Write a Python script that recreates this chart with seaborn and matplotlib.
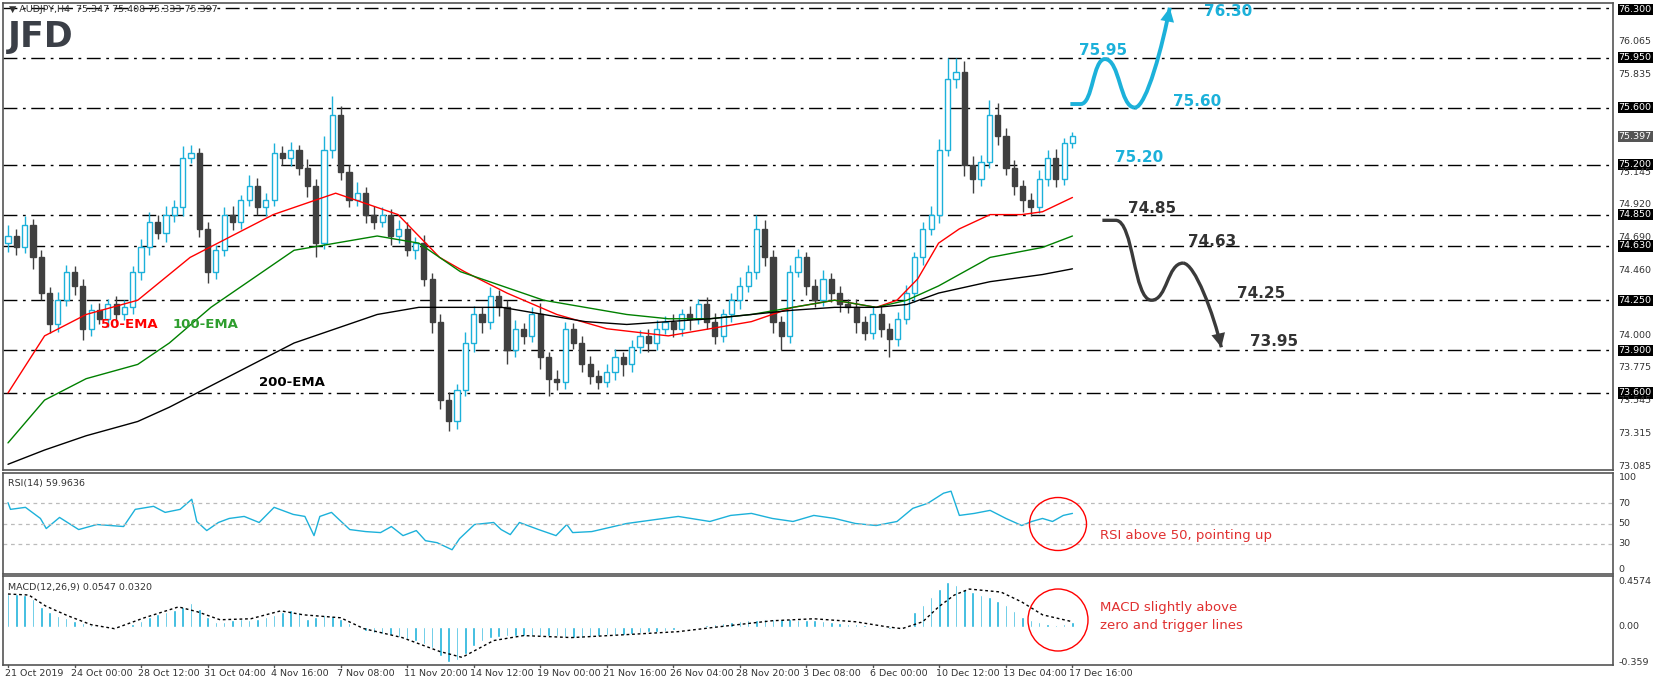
import matplotlib
matplotlib.use("Agg")
import matplotlib.pyplot as plt
from matplotlib.patches import Ellipse, PathPatch
from matplotlib.path import Path
import matplotlib.transforms as mtransforms
import seaborn as sns

# candle closes (open = previous close), wicks in hundredths
closes = [74.70, 74.62, 74.78, 74.55, 74.30, 74.08, 74.25, 74.45, 74.35, 74.05,
          74.18, 74.12, 74.22, 74.15, 74.20, 74.45, 74.62, 74.80, 74.72, 74.85,
          74.90, 75.25, 75.28, 74.75, 74.45, 74.60, 74.85, 74.80, 74.95, 75.05,
          74.90, 74.95, 75.28, 75.25, 75.30, 75.18, 75.05, 74.65, 75.30, 75.55,
          75.15, 74.95, 75.00, 74.85, 74.80, 74.85, 74.70, 74.75, 74.60, 74.65,
          74.40, 74.10, 73.55, 73.40, 73.62, 73.95, 74.15, 74.10, 74.28, 74.20,
          73.90, 74.05, 74.00, 74.15, 73.85, 73.70, 73.68, 74.05, 73.95, 73.80,
          73.72, 73.68, 73.75, 73.85, 73.80, 73.92, 74.00, 73.95, 74.05, 74.10,
          74.05, 74.15, 74.12, 74.22, 74.10, 74.00, 74.15, 74.25, 74.35, 74.45,
          74.75, 74.55, 74.10, 74.00, 74.45, 74.55, 74.35, 74.25, 74.40, 74.30,
          74.22, 74.20, 74.10, 74.02, 74.15, 74.05, 73.98, 74.12, 74.30, 74.55,
          74.75, 74.85, 75.30, 75.80, 75.85, 75.20, 75.10, 75.22, 75.55, 75.40,
          75.18, 75.05, 74.95, 74.90, 75.10, 75.25, 75.10, 75.35, 75.40]
first_open = 74.65
hi_wick = [8, 5, 6, 4, 5, 4, 6, 5, 4, 5, 4, 5, 4, 6, 5, 4, 6, 7, 5, 6,
           5, 8, 6, 4, 5, 4, 5, 6, 4, 8, 6, 5, 7, 5, 6, 4, 6, 5, 10, 13,
           6, 5, 8, 4, 6, 5, 4, 6, 5, 4, 6, 4, 5, 6, 4, 8, 6, 5, 6, 4,
           5, 6, 4, 5, 8, 4, 6, 5, 4, 5, 6, 4, 5, 6, 4, 5, 4, 5, 6, 4,
           5, 4, 6, 4, 5, 6, 4, 5, 6, 5, 10, 6, 5, 4, 5, 6, 4, 5, 6, 4,
           5, 4, 6, 4, 5, 6, 4, 5, 6, 4, 5, 6, 8, 15, 10, 8, 6, 5, 10, 8,
           6, 5, 4, 5, 6, 5, 6, 4, 3]
lo_wick = [6, 5, 4, 8, 5, 6, 5, 4, 6, 8, 5, 4, 6, 5, 4, 5, 6, 5, 4, 6,
           5, 6, 4, 6, 8, 5, 4, 6, 5, 4, 5, 6, 4, 5, 6, 5, 8, 10, 4, 5,
           6, 5, 4, 6, 5, 4, 6, 5, 4, 6, 5, 8, 6, 7, 5, 4, 6, 8, 5, 6,
           10, 5, 6, 4, 8, 12, 6, 5, 4, 5, 6, 5, 4, 6, 8, 5, 4, 6, 5, 4,
           6, 5, 8, 4, 5, 6, 4, 5, 6, 4, 5, 6, 8, 10, 5, 4, 6, 5, 4, 6,
           5, 4, 8, 5, 4, 6, 13, 5, 4, 6, 5, 4, 6, 4, 6, 8, 10, 5, 4, 6,
           5, 6, 8, 6, 4, 5, 6, 4, 3]

ema50_x = [0, 4.4, 9.4, 15.6, 21.9, 26.9, 31.9, 36.9, 39.4, 41.9, 46.9, 49.4, 51.9, 54.9,
           60, 66, 72, 79.4, 84.4, 89.4, 94.4, 99.4, 104.4, 106.9, 109.4, 111.9, 114.4,
           118.1, 121.9, 124.4, 128]
ema50_y = [73.6, 74.0, 74.15, 74.25, 74.55, 74.7, 74.85, 74.95, 75.0, 74.95, 74.85, 74.7,
           74.55, 74.45, 74.3, 74.15, 74.05, 74.0, 74.05, 74.1, 74.2, 74.25, 74.2, 74.25,
           74.4, 74.65, 74.75, 74.85, 74.85, 74.87, 74.97]
ema100_x = [0, 4.4, 9.4, 15.6, 19.4, 24.4, 29.4, 34.4, 39.4, 44.4, 49.4, 54.4, 59.4, 64.4,
            69.4, 74.4, 79.4, 84.4, 89.4, 94.4, 99.4, 104.4, 108.1, 111.9, 118.1, 124.4, 128]
ema100_y = [73.25, 73.55, 73.7, 73.8, 73.95, 74.2, 74.4, 74.6, 74.65, 74.7, 74.65, 74.45,
            74.35, 74.25, 74.2, 74.15, 74.12, 74.12, 74.15, 74.2, 74.25, 74.2, 74.25, 74.35,
            74.55, 74.62, 74.7]
ema200_x = ema100_x
ema200_y = [73.1, 73.2, 73.3, 73.4, 73.5, 73.65, 73.8, 73.95, 74.05, 74.15, 74.2, 74.2,
            74.2, 74.15, 74.1, 74.08, 74.1, 74.12, 74.15, 74.18, 74.2, 74.2, 74.22, 74.3,
            74.38, 74.43, 74.47]

rsi_x = [0, 0.3, 2.1, 3.9, 4.6, 6.2, 8.5, 10.7, 13.9, 15.3, 17.5, 18.9, 20.7, 22.1, 22.7,
         23.9, 25.3, 26.6, 28.4, 30.2, 32.0, 34.3, 35.7, 36.8, 37.5, 38.9, 39.8, 41.1, 43.0,
         44.8, 46.1, 47.5, 49.1, 50.2, 51.6, 53.4, 54.3, 56.1, 58.4, 59.3, 60.4, 61.5, 63.8,
         65.9, 67.2, 67.9, 70.2, 74.4, 80.6, 84.4, 86.9, 89.4, 91.9, 94.4, 96.9, 99.4, 101.9,
         104.4, 106.9, 108.8, 110.6, 112.5, 113.4, 114.4, 116.2, 118.1, 120, 121.9, 123.1,
         124.4, 125.6, 126.9, 128]
rsi_y = [70.6, 64, 66, 55, 45, 56, 44, 49, 47, 64, 67, 61, 64, 74, 52, 43, 51, 55, 57, 51,
         66, 59, 57, 38, 57, 61, 54, 44, 42, 41, 47, 38, 43, 33, 31, 24, 35, 49, 51, 44, 39,
         51, 44, 38, 49, 41, 42, 50, 57, 52, 58, 60, 55, 52, 58, 55, 50, 48, 52, 65, 70, 80,
         82, 58, 60, 63, 55, 48, 52, 55, 52, 58, 60]

macd_hist = [0.33, 0.33, 0.32, 0.28, 0.20, 0.15, 0.11, 0.09, 0.06, 0.04,
             0.02, 0.01, 0.00, 0.01, 0.01, 0.03, 0.06, 0.10, 0.13, 0.15,
             0.17, 0.20, 0.24, 0.18, 0.10, 0.05, 0.05, 0.07, 0.08, 0.07,
             0.08, 0.10, 0.12, 0.15, 0.17, 0.15, 0.08, 0.10, 0.12, 0.11,
             0.08, 0.04, 0.00, -0.04, -0.06, -0.07, -0.08, -0.10, -0.12, -0.14,
             -0.17, -0.22, -0.30, -0.36, -0.34, -0.28, -0.20, -0.14, -0.11, -0.10,
             -0.09, -0.09, -0.09, -0.09, -0.09, -0.09, -0.09, -0.10, -0.11, -0.11,
             -0.10, -0.09, -0.08, -0.08, -0.08, -0.07, -0.06, -0.05, -0.05, -0.04,
             -0.03, -0.01, 0.00, 0.01, 0.02, 0.03, 0.04, 0.05, 0.06, 0.07,
             0.07, 0.08, 0.08, 0.08, 0.08, 0.07, 0.07, 0.07, 0.06, 0.05,
             0.04, 0.03, 0.03, 0.02, 0.00, -0.01, -0.02, -0.01, 0.00, 0.15,
             0.22, 0.30, 0.38, 0.45, 0.42, 0.38, 0.35, 0.32, 0.30, 0.26,
             0.22, 0.16, 0.10, 0.07, 0.05, 0.03, 0.02, 0.03, 0.05]
sig_x = [0, 2.5, 4.5, 7.2, 10.0, 12.8, 16.4, 20.5, 22.8, 25.5, 29.2, 32.8, 35.5, 40.0,
         42.8, 47.4, 51.9, 54.6, 58.4, 62.0, 67.8, 74.4, 80.6, 85.6, 91.9, 96.9, 101.9,
         105.6, 107.5, 110, 111.9, 113.8, 115.6, 119.4, 121.9, 124.4, 128]
sig_y = [0.33, 0.32, 0.21, 0.11, 0.02, -0.02, 0.09, 0.20, 0.15, 0.07, 0.08, 0.16, 0.12,
         0.09, -0.02, -0.11, -0.25, -0.31, -0.14, -0.09, -0.11, -0.08, -0.05, 0.0, 0.06,
         0.08, 0.05, 0.0, -0.02, 0.05, 0.20, 0.32, 0.38, 0.35, 0.25, 0.12, 0.05]

boxed_levels = [76.30, 75.95, 75.60, 75.20, 74.85, 74.63, 74.25, 73.90, 73.60]
plain_ticks = [76.065, 75.835, 75.145, 74.920, 74.690, 74.460, 74.000, 73.775, 73.545,
               73.315, 73.085]
last_price = 75.397
date_labels = ["21 Oct 2019", "24 Oct 00:00", "28 Oct 12:00", "31 Oct 04:00", "4 Nov 16:00",
               "7 Nov 08:00", "11 Nov 20:00", "14 Nov 12:00", "19 Nov 00:00", "21 Nov 16:00",
               "26 Nov 04:00", "28 Nov 20:00", "3 Dec 08:00", "6 Dec 00:00", "10 Dec 12:00",
               "13 Dec 04:00", "17 Dec 16:00"]

CYAN = "#1CB1DA"
DARK = "#404040"
W, H = 1655, 686
FS = 6.8

sns.set_style("white")
plt.rcParams["font.family"] = ["DejaVu Sans"]

fig = plt.figure(figsize=(W / 100, H / 100), dpi=100)


def px_axes(x0, y0, x1, y1):
    return fig.add_axes([x0 / W, 1 - y1 / H, (x1 - x0) / W, (y1 - y0) / H])


ax = px_axes(3, 3, 1613, 470)
ax_rsi = px_axes(3, 473, 1613, 574)
ax_macd = px_axes(3, 576, 1613, 665)
XMAX = 193.0
for a in (ax, ax_rsi, ax_macd):
    a.set_xlim(-0.6, XMAX)
    a.set_xticks([])
    a.set_yticks([])
    for s in a.spines.values():
        s.set_color("#555555")
        s.set_linewidth(1.2)

# candles
opens = [first_open] + closes[:-1]
for i, (o, c) in enumerate(zip(opens, closes)):
    hi = max(o, c) + hi_wick[i] / 100
    lo = min(o, c) - lo_wick[i] / 100
    up = c >= o
    col = CYAN if up else DARK
    ax.vlines(i, lo, hi, color=col, lw=1, zorder=3)
    ax.bar(i, max(abs(c - o), 0.008), bottom=min(o, c), width=0.62,
           color="white" if up else DARK, edgecolor=col, linewidth=1, zorder=4)

sns.lineplot(x=ema50_x, y=ema50_y, ax=ax, color="red", lw=1, zorder=5)
sns.lineplot(x=ema100_x, y=ema100_y, ax=ax, color="green", lw=1, zorder=5)
sns.lineplot(x=ema200_x, y=ema200_y, ax=ax, color="black", lw=1, zorder=5)
ax.text(11.2, 74.08, "50-EMA", color="red", fontsize=9.5, fontweight="bold", zorder=8,
        va="center")
ax.text(19.8, 74.08, "100-EMA", color="#2e9e2e", fontsize=9.5, fontweight="bold", zorder=8,
        va="center")
ax.text(30.2, 73.67, "200-EMA", color="black", fontsize=9.5, fontweight="bold", zorder=8,
        va="center")

ax.set_ylim(73.06, 76.333)
for lv in boxed_levels:
    ax.axhline(lv, color="black", lw=1, ls=(0, (10, 4, 2, 4)), zorder=2)

trans = mtransforms.blended_transform_factory(ax.transAxes, ax.transData)
for lv in boxed_levels:
    ax.text(1.0035, min(lv, 76.29), f"{lv:.3f}", transform=trans, fontsize=FS, color="white",
            va="center", ha="left",
            bbox=dict(boxstyle="square,pad=0.12", fc="black", ec="none"))
for lv in plain_ticks:
    ax.text(1.0035, lv, f"{lv:.3f}", transform=trans, fontsize=FS, color="#333333",
            va="center", ha="left")
ax.text(1.0035, last_price, f"{last_price:.3f}", transform=trans, fontsize=FS, color="white",
        va="center", ha="left", bbox=dict(boxstyle="square,pad=0.12", fc="#555555", ec="none"))


def s_path(points, lead):
    verts = [lead, points[0]]
    codes = [Path.MOVETO, Path.LINETO]
    for (x0, y0), (x1, y1) in zip(points[:-1], points[1:]):
        dx = (x1 - x0) / 2
        verts += [(x0 + dx, y0), (x1 - dx, y1), (x1, y1)]
        codes += [Path.CURVE4] * 3
    return Path(verts, codes)


def scenario(lead, pts, tip, tail_ctrl, col, lw):
    p = s_path(pts, lead)
    ax.add_patch(PathPatch(p, fc="none", ec=col, lw=lw, zorder=6))
    x0, y0 = pts[-1]
    fin = Path([(x0, y0), (x0 + 1.4, y0), tail_ctrl, tip],
               [Path.MOVETO, Path.CURVE4, Path.CURVE4, Path.CURVE4])
    ax.add_patch(PathPatch(fin, fc="none", ec=col, lw=lw, zorder=6))
    ax.annotate("", xy=tip, xytext=tail_ctrl, zorder=7,
                arrowprops=dict(arrowstyle="-|>,head_width=0.5,head_length=1.0",
                                color=col, lw=0, shrinkA=0, shrinkB=0))


scenario((127.75, 75.625), [(129.0, 75.625), (131.9, 75.94), (135.5, 75.60)],
         (139.7, 76.30), (138.9, 76.05), CYAN, 2.8)
scenario((131.6, 74.81), [(133.2, 74.81), (137.5, 74.25), (141.3, 74.51)],
         (145.9, 73.92), (145.0, 74.15), "#3a3a3a", 2.4)

blue_labels = [(131.7, 76.0, "75.95"), (143.8, 76.27, "76.30"), (140.1, 75.64, "75.60"),
               (133.1, 75.25, "75.20")]
black_labels = [(134.7, 74.89, "74.85"), (141.9, 74.66, "74.63"), (147.8, 74.30, "74.25"),
                (149.4, 73.96, "73.95")]
for x, y, t in blue_labels:
    ax.text(x, y, t, color=CYAN, fontsize=11, fontweight="bold", va="center",
            ha="center" if t == "75.95" else "left")
for x, y, t in black_labels:
    ax.text(x, y, t, color="#333333", fontsize=11, fontweight="bold", va="center", ha="left")

fig.text(9 / W, 1 - 10 / H, "\u25bc AUDJPY,H4  75.347 75.408 75.333 75.397", fontsize=FS,
         color="#333333", va="center")
fig.text(8 / W, 1 - 37 / H, "JFD", fontsize=25, fontweight="bold", color="#3b3f47",
         va="center")

# RSI
sns.lineplot(x=rsi_x, y=rsi_y, ax=ax_rsi, color=CYAN, lw=1)
ax_rsi.set_ylim(0, 100)
for lv in (70, 50, 30):
    ax_rsi.axhline(lv, color="#bbbbbb", lw=0.9, ls=(0, (3, 3)))
tr = mtransforms.blended_transform_factory(ax_rsi.transAxes, ax_rsi.transData)
for lv, lab in ((100, "100"), (70, "70"), (50, "50"), (30, "30"), (0, "0")):
    ax_rsi.text(1.0035, lv, lab, transform=tr, fontsize=FS, color="#333333",
                va="top" if lv == 100 else ("bottom" if lv == 0 else "center"))
ax_rsi.text(0.003, 0.9, "RSI(14) 59.9636", transform=ax_rsi.transAxes, fontsize=FS,
            color="#333333", va="center")

# MACD
ax_macd.bar(range(len(macd_hist)), macd_hist, width=0.3, color=CYAN)
sns.lineplot(x=sig_x, y=sig_y, ax=ax_macd, color="black", lw=1, ls=(0, (2, 2)))
ax_macd.set_ylim(-0.387, 0.512)
tm = mtransforms.blended_transform_factory(ax_macd.transAxes, ax_macd.transData)
for lv, lab in ((0.4574, "0.4574"), (0.0, "0.00"), (-0.359, "-0.359")):
    ax_macd.text(1.0035, lv, lab, transform=tm, fontsize=FS, color="#333333", va="center")
ax_macd.text(0.003, 0.87, "MACD(12,26,9) 0.0547 0.0320", transform=ax_macd.transAxes,
             fontsize=FS, color="#333333", va="center")

for i, lab in enumerate(date_labels):
    x = i * 8
    ax_macd.plot([x, x], [-0.387, -0.41], color="#555555", lw=1, clip_on=False)
    ax_macd.text(x - 0.4, -0.43, lab, fontsize=FS, color="#333333", va="top", ha="left",
                 transform=ax_macd.transData)

# notes
fig.patches.append(Ellipse((1058 / W, 1 - 524 / H), 57 / W, 53 / H, fill=False,
                           ec="red", lw=1, transform=fig.transFigure))
fig.patches.append(Ellipse((1058 / W, 1 - 620 / H), 60 / W, 62 / H, fill=False,
                           ec="red", lw=1, transform=fig.transFigure))
fig.text(1100 / W, 1 - 535 / H, "RSI above 50, pointing up", color="#e03030",
         fontsize=9.5, va="center")
fig.text(1100 / W, 1 - 607 / H, "MACD slightly above", color="#e03030", fontsize=9.5,
         va="center")
fig.text(1100 / W, 1 - 626 / H, "zero and trigger lines", color="#e03030", fontsize=9.5,
         va="center")

fig.savefig("out.png", dpi=100, facecolor="white")
